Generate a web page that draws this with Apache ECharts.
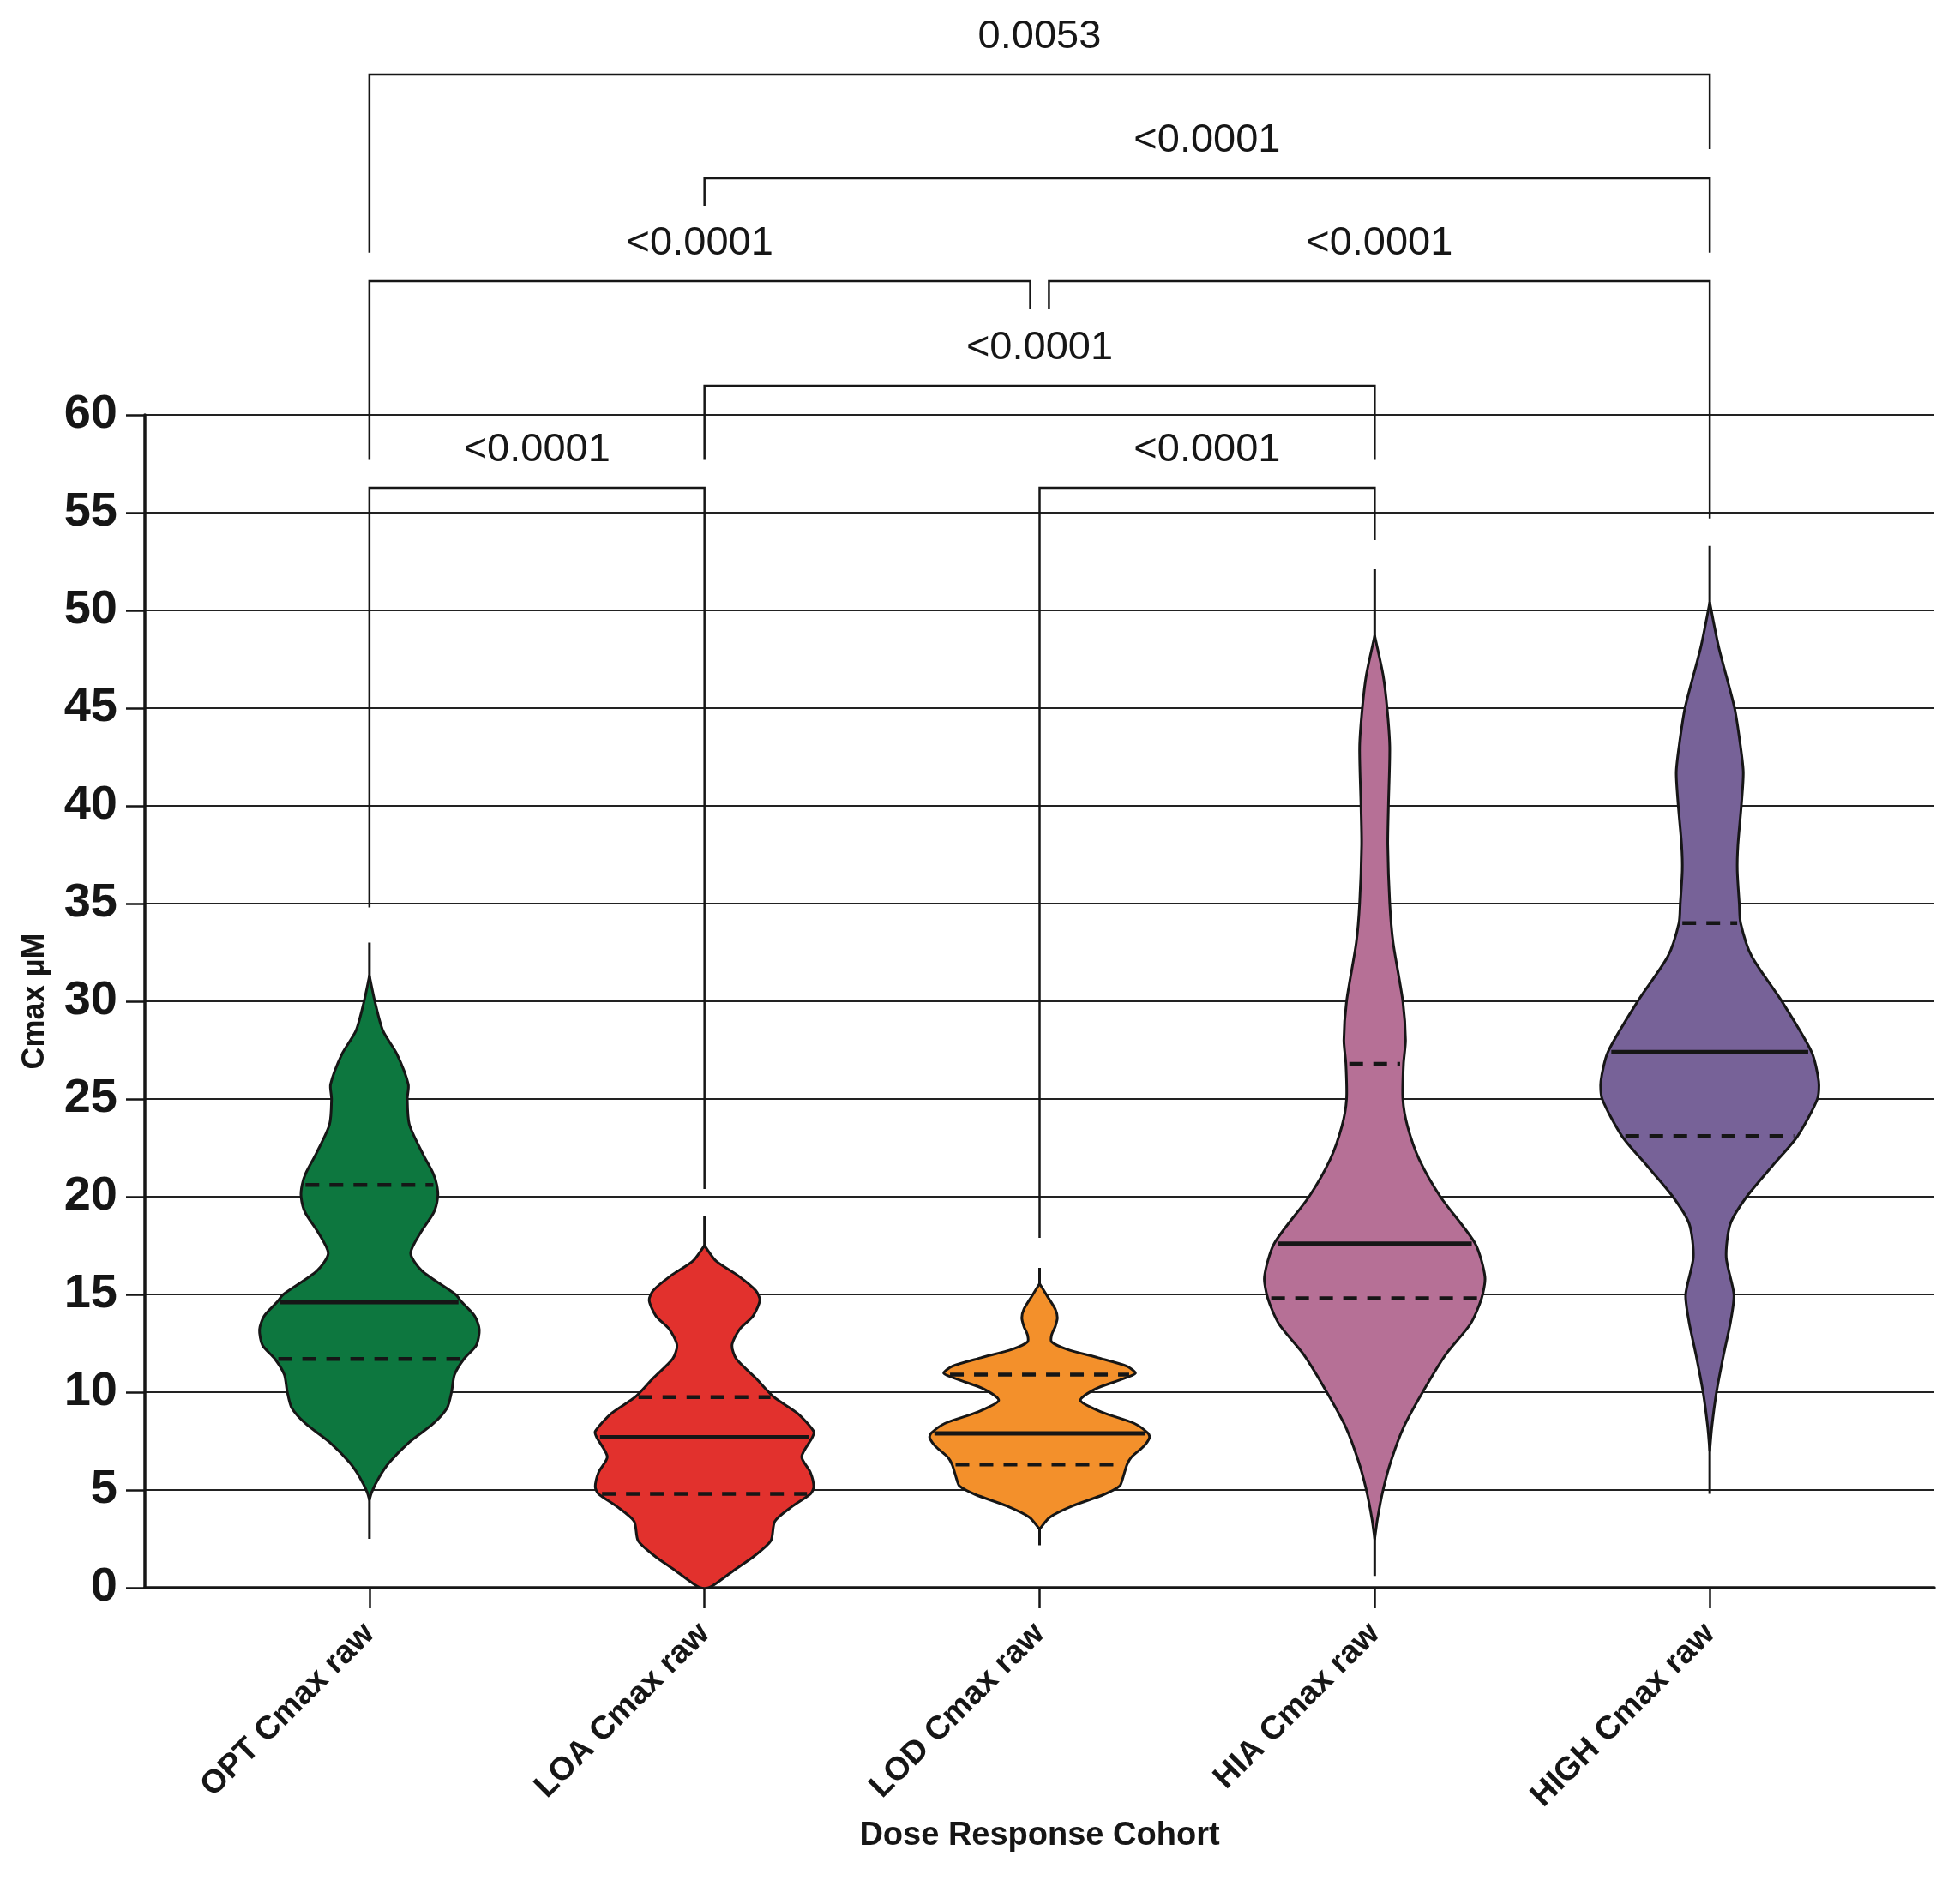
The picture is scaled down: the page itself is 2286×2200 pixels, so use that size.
<!DOCTYPE html>
<html>
<head>
<meta charset="utf-8">
<title>Cmax violin</title>
<script src="https://cdn.jsdelivr.net/npm/echarts@6/dist/echarts.min.js"></script>
<style>
  html, body { margin: 0; padding: 0; background: #fff; }
  #chart { width: 2286px; height: 2200px; }
</style>
</head>
<body>
<div id="chart"></div>
<script>
'use strict';

// cohorts on the x axis
var cohorts = ['OPT Cmax raw', 'LOA Cmax raw', 'LOD Cmax raw', 'HIA Cmax raw', 'HIGH Cmax raw'];
var yTicks = [0, 5, 10, 15, 20, 25, 30, 35, 40, 45, 50, 55, 60];

// violin outlines: [Cmax, half width in cohort units], top to bottom
var violinOPT = [[31.3, 0], [30, 0.016], [28.5, 0.040], [27.3, 0.082], [25.75, 0.116], [25, 0.113],
    [23.7, 0.119], [22.2, 0.159], [21.2, 0.190], [20.6, 0.201], [20, 0.204], [19.2, 0.192],
    [18.2, 0.154], [17.1, 0.123], [16.2, 0.157], [15, 0.257], [14.6, 0.276], [13.9, 0.314],
    [13.2, 0.328], [12.4, 0.319], [11.7, 0.282], [10.9, 0.254], [10, 0.245], [9.2, 0.232],
    [8.4, 0.191], [7.4, 0.116], [6.4, 0.059], [5.65, 0.029], [4.9, 0.007], [4.5, 0]];
var violinLOA = [[17.5, 0], [16.7, 0.035], [15.95, 0.101], [15.2, 0.153], [14.7, 0.165], [13.9, 0.145],
    [13.2, 0.104], [12.4, 0.082], [11.7, 0.095], [10.7, 0.154], [9.75, 0.207], [8.9, 0.279],
    [8.0, 0.326], [7.7, 0.322], [6.7, 0.290], [5.9, 0.316], [5.15, 0.326], [4.8, 0.316],
    [4.15, 0.261], [3.4, 0.210], [2.4, 0.198], [1.6, 0.147], [0.88, 0.087], [0.25, 0.037], [0, 0.012]];
var violinLOD = [[15.55, 0], [14.97, 0.021], [14.24, 0.047], [13.8, 0.053], [13.37, 0.047], [12.93, 0.036],
    [12.57, 0.036], [12.2, 0.081], [11.76, 0.175], [11.33, 0.260], [10.96, 0.286], [10.6, 0.235],
    [10.16, 0.166], [9.58, 0.122], [9.0, 0.183], [8.41, 0.282], [7.9, 0.324], [7.68, 0.328],
    [7.24, 0.311], [6.66, 0.273], [6.3, 0.261], [5.64, 0.249], [5.2, 0.239], [4.77, 0.192],
    [4.18, 0.098], [3.6, 0.030], [3.0, 0]];
var violinHIA = [[48.7, 0], [46.7, 0.025], [45, 0.037], [43, 0.045], [40, 0.041], [38, 0.039],
    [35, 0.045], [33, 0.055], [30, 0.084], [28, 0.092], [26.8, 0.086], [25, 0.084], [23.6, 0.098],
    [21.9, 0.133], [20, 0.196], [17.6, 0.300], [15.9, 0.329], [14.8, 0.319], [13.5, 0.286],
    [11.9, 0.211], [10, 0.143], [8.2, 0.086], [6.5, 0.049], [5, 0.025], [3.5, 0.008], [2.5, 0]];
var violinHIGH = [[50.4, 0], [48.1, 0.027], [45, 0.074], [43, 0.092], [41.7, 0.100], [40, 0.094],
    [38, 0.084], [36.7, 0.082], [35, 0.088], [34, 0.092], [32.3, 0.125], [30, 0.215], [27.4, 0.304],
    [25.9, 0.325], [25, 0.321], [23.1, 0.262], [21.6, 0.188], [20, 0.110], [18.6, 0.061],
    [16.9, 0.049], [15, 0.072], [13.6, 0.062], [11.9, 0.041], [10, 0.020], [8.2, 0.006], [7, 0]];

var minValues = [2.5, 0, 2.17, 0.6, 4.8];
var maxValues = [33.0, 19.0, 16.36, 52.1, 53.3];
var medians = [14.6, 7.7, 7.9, 17.6, 27.4];
var lowerQuartiles = [11.7, 4.8, 6.3, 14.8, 23.1];
var upperQuartiles = [20.6, 9.75, 10.9, 26.8, 34.0];

// multiple comparison brackets
var bracketFrom = [0, 2, 1, 0, 2, 1, 0];
var bracketTo = [1, 3, 3, 2, 4, 4, 4];
var bracketHeight = [56.27, 56.27, 61.49, 66.84, 66.84, 72.11, 77.41];
var bracketLeftEnd = [34.8, 17.9, 57.7, 57.7, 65.4, 70.7, 68.3];
var bracketRightEnd = [20.4, 53.6, 57.7, 65.4, 54.7, 68.3, 73.6];
var pValues = ['<0.0001', '<0.0001', '<0.0001', '<0.0001', '<0.0001', '<0.0001', '0.0053'];

var violins = [violinOPT, violinLOA, violinLOD, violinHIA, violinHIGH];
var colors = ['#0d773f', '#e2312d', '#f3902b', '#b67096', '#776298'];
var FONT = '"Liberation Sans", Arial, Helvetica, sans-serif';
var INK = '#161616';

// half width of a violin at a given value (used to size the quartile lines)
function widthAt(profile, v) {
    for (var k = 0; k < profile.length - 1; k++) {
        var a = profile[k], b = profile[k + 1];
        if (v <= a[0] && v >= b[0]) {
            var t = (a[0] - v) / (a[0] - b[0]);
            return a[1] + (b[1] - a[1]) * t;
        }
    }
    return 0;
}

function renderViolin(params, api) {
    var i = api.value(0);
    var profile = violins[i];
    var pts = [];
    for (var k = 0; k < profile.length; k++) {
        pts.push(api.coord([i + profile[k][1], profile[k][0]]));
    }
    for (var k2 = profile.length - 1; k2 >= 0; k2--) {
        pts.push(api.coord([i - profile[k2][1], profile[k2][0]]));
    }
    var children = [];
    var top = api.coord([i, maxValues[i]]);
    var bottom = api.coord([i, minValues[i]]);
    children.push({
        type: 'line',
        shape: { x1: top[0], y1: top[1], x2: bottom[0], y2: bottom[1] },
        style: { stroke: INK, lineWidth: 3 }
    });
    children.push({
        type: 'polygon',
        shape: { points: pts, smooth: 0.25 },
        style: { fill: colors[i], stroke: INK, lineWidth: 3, lineJoin: 'round' }
    });
    var quart = [
        [medians[i], 5, null],
        [lowerQuartiles[i], 4.5, [16, 12]],
        [upperQuartiles[i], 4.5, [16, 12]]
    ];
    quart.forEach(function (q) {
        var hw = widthAt(profile, q[0]);
        var l = api.coord([i - hw, q[0]]);
        var r = api.coord([i + hw, q[0]]);
        children.push({
            type: 'line',
            shape: { x1: l[0] + 4, y1: l[1], x2: r[0] - 4, y2: r[1] },
            style: { stroke: INK, lineWidth: q[1], lineDash: q[2] || null }
        });
    });
    return { type: 'group', children: children };
}

function renderBracket(params, api) {
    var b = params.dataIndex;
    var x1 = bracketFrom[b], x2 = bracketTo[b];
    // the two brackets meeting at LOD are pulled apart a little
    if (b === 3) { x2 -= 0.028; }
    if (b === 4) { x1 += 0.028; }
    var pl = api.coord([x1, bracketLeftEnd[b]]);
    var pt1 = api.coord([x1, bracketHeight[b]]);
    var pt2 = api.coord([x2, bracketHeight[b]]);
    var pr = api.coord([x2, bracketRightEnd[b]]);
    return {
        type: 'group',
        children: [{
            type: 'polyline',
            shape: { points: [pl, pt1, pt2, pr] },
            style: { stroke: INK, lineWidth: 2.5, fill: null }
        }, {
            type: 'text',
            x: (pt1[0] + pt2[0]) / 2,
            y: pt1[1] - 44,
            style: {
                text: pValues[b],
                fill: INK,
                font: '47px ' + FONT,
                textAlign: 'center',
                textVerticalAlign: 'middle'
            }
        }]
    };
}

var myChart = echarts.init(document.getElementById('chart'), null, { renderer: 'canvas' });

var option = {
    backgroundColor: '#ffffff',
    animation: false,
    textStyle: { fontFamily: FONT },
    grid: { left: 169, right: 30, top: 484, bottom: 348, containLabel: false },
    xAxis: {
        type: 'value',
        min: -0.67,
        max: 4.67,
        name: 'Dose Response Cohort',
        nameLocation: 'middle',
        nameGap: 247,
        nameTextStyle: { fontSize: 38, fontWeight: 'bold', color: INK, fontFamily: FONT },
        axisLine: { show: true, onZero: false, lineStyle: { color: INK, width: 3.5 } },
        axisTick: {
            show: true, length: 24, inside: false,
            customValues: [0, 1, 2, 3, 4],
            lineStyle: { color: INK, width: 2.5 }
        },
        axisLabel: {
            show: true,
            customValues: [0, 1, 2, 3, 4],
            rotate: 45,
            margin: 48,
            fontSize: 38,
            fontWeight: 'bold',
            color: INK,
            fontFamily: FONT,
            formatter: function (v) { return cohorts[Math.round(v)]; }
        },
        splitLine: { show: false }
    },
    yAxis: {
        type: 'value',
        min: yTicks[0],
        max: yTicks[yTicks.length - 1],
        interval: 5,
        name: 'Cmax µM',
        nameLocation: 'middle',
        nameGap: 110,
        nameTextStyle: { fontSize: 36, fontWeight: 'bold', color: INK, fontFamily: FONT },
        axisLine: { show: true, onZero: false, lineStyle: { color: INK, width: 3.5 } },
        axisTick: { show: true, length: 22, lineStyle: { color: INK, width: 2.5 } },
        axisLabel: {
            margin: 32,
            fontSize: 56,
            fontWeight: 'bold',
            color: INK,
            fontFamily: FONT
        },
        splitLine: { show: true, lineStyle: { color: '#222222', width: 2.2 } }
    },
    series: [{
        type: 'custom',
        name: 'violins',
        clip: false,
        z: 3,
        renderItem: renderViolin,
        data: cohorts.map(function (c, i) { return [i]; }),
        silent: true
    }, {
        type: 'custom',
        name: 'brackets',
        clip: false,
        z: 4,
        renderItem: renderBracket,
        data: bracketFrom.map(function (f, b) { return [f, bracketHeight[b]]; }),
        silent: true
    }]
};

myChart.setOption(option);
</script>
</body>
</html>
